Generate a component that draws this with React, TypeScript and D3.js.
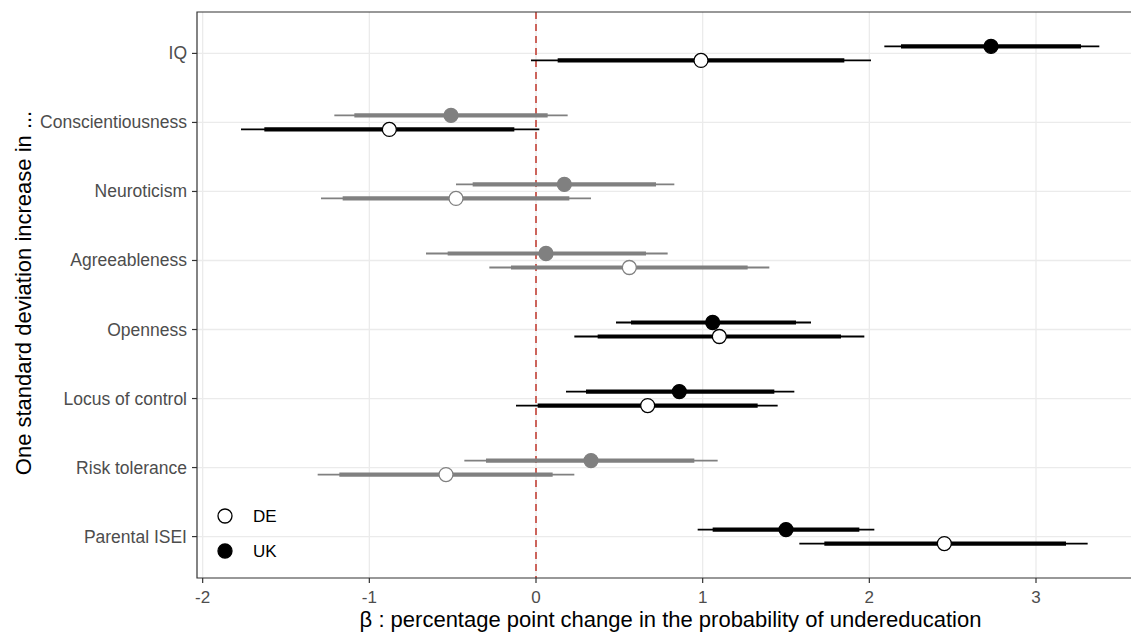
import React from "react";
import * as d3 from "d3";

const categories = ["IQ", "Conscientiousness", "Neuroticism", "Agreeableness", "Openness", "Locus of control", "Risk tolerance", "Parental ISEI"];

const ukEst = [2.73, -0.51, 0.17, 0.06, 1.06, 0.86, 0.33, 1.50];
const ukLo90 = [2.19, -1.09, -0.38, -0.53, 0.57, 0.30, -0.30, 1.06];
const ukHi90 = [3.27, 0.07, 0.72, 0.66, 1.56, 1.43, 0.95, 1.94];
const ukLo95 = [2.09, -1.21, -0.48, -0.66, 0.48, 0.18, -0.43, 0.97];
const ukHi95 = [3.38, 0.19, 0.83, 0.79, 1.65, 1.55, 1.09, 2.03];

const deEst = [0.99, -0.88, -0.48, 0.56, 1.10, 0.67, -0.54, 2.45];
const deLo90 = [0.13, -1.63, -1.16, -0.15, 0.37, 0.01, -1.18, 1.73];
const deHi90 = [1.85, -0.13, 0.20, 1.27, 1.83, 1.33, 0.10, 3.18];
const deLo95 = [-0.03, -1.77, -1.29, -0.28, 0.23, -0.12, -1.31, 1.58];
const deHi95 = [2.01, 0.02, 0.33, 1.40, 1.97, 1.45, 0.23, 3.31];

const xTicks = [-2, -1, 0, 1, 2, 3];
const seriesNames = ["DE", "UK"];

const W = 1131;
const H = 635;
const panel = { left: 197, top: 12, right: 1144, bottom: 578 };
const FONT = "'Liberation Sans', Arial, sans-serif";

export default function App() {
  const x = d3.scaleLinear().domain([-2.034, 3.648]).range([panel.left, panel.right]);
  const y = d3.scalePoint<string>().domain(categories).range([panel.top, panel.bottom]).padding(0.6);
  const dodge = 7;

  const series = [
    { name: "UK", est: ukEst, lo90: ukLo90, hi90: ukHi90, lo95: ukLo95, hi95: ukHi95, off: -dodge, filled: true },
    { name: "DE", est: deEst, lo90: deLo90, hi90: deHi90, lo95: deLo95, hi95: deHi95, off: dodge, filled: false },
  ];

  const colorFor = (lo: number, hi: number) => (lo > 0 || hi < 0 ? "#000000" : "#808080");

  return (
    <svg width={W} height={H} style={{ position: "absolute", left: 0, top: 0, background: "#fff" }} fontFamily={FONT}>
      <rect x={0} y={0} width={W} height={H} fill="#fff" />
      {/* grid */}
      {xTicks.map((t) => (
        <line key={"gx" + t} x1={x(t)} x2={x(t)} y1={panel.top} y2={panel.bottom} stroke="#ebebeb" strokeWidth={1.3} />
      ))}
      {categories.map((c) => (
        <line key={"gy" + c} x1={panel.left} x2={panel.right} y1={y(c)} y2={y(c)} stroke="#ebebeb" strokeWidth={1.3} />
      ))}
      {/* zero line */}
      <line x1={x(0)} x2={x(0)} y1={panel.top} y2={panel.bottom} stroke="#c8554c" strokeWidth={1.8} strokeDasharray="7,5" />
      {/* intervals */}
      {series.map((s) =>
        categories.map((c, i) => {
          const col = colorFor(s.lo90[i], s.hi90[i]);
          const yy = (y(c) as number) + s.off;
          return (
            <g key={s.name + c}>
              <line x1={x(s.lo95[i])} x2={x(s.hi95[i])} y1={yy} y2={yy} stroke={col} strokeWidth={1.8} />
              <line x1={x(s.lo90[i])} x2={x(s.hi90[i])} y1={yy} y2={yy} stroke={col} strokeWidth={4.2} />
            </g>
          );
        })
      )}
      {/* points */}
      {series.map((s) =>
        categories.map((c, i) => {
          const col = colorFor(s.lo90[i], s.hi90[i]);
          const yy = (y(c) as number) + s.off;
          return (
            <circle
              key={"p" + s.name + c}
              cx={x(s.est[i])}
              cy={yy}
              r={7}
              fill={s.filled ? col : "#fff"}
              stroke={col}
              strokeWidth={1.3}
            />
          );
        })
      )}
      {/* panel border */}
      <path
        d={`M${panel.right},${panel.top} H${panel.left} V${panel.bottom} H${panel.right}`}
        fill="none"
        stroke="#333333"
        strokeWidth={1.2}
      />
      {/* y axis ticks & labels */}
      {categories.map((c) => (
        <g key={"yt" + c}>
          <line x1={panel.left - 5} x2={panel.left} y1={y(c)} y2={y(c)} stroke="#333333" strokeWidth={1.2} />
          <text x={panel.left - 10} y={(y(c) as number) + 6} textAnchor="end" fontSize={17.5} fill="#4d4d4d">
            {c}
          </text>
        </g>
      ))}
      {/* x axis ticks & labels */}
      {xTicks.map((t) => (
        <g key={"xt" + t}>
          <line x1={x(t)} x2={x(t)} y1={panel.bottom} y2={panel.bottom + 5} stroke="#333333" strokeWidth={1.2} />
          <text x={x(t)} y={panel.bottom + 25} textAnchor="middle" fontSize={17} fill="#4d4d4d">
            {t < 0 ? "-" + Math.abs(t) : String(t)}
          </text>
        </g>
      ))}
      {/* axis titles */}
      <text x={(panel.left + panel.right) / 2} y={627} textAnchor="middle" fontSize={22} fill="#000">
        β : percentage point change in the probability of undereducation
      </text>
      <text
        transform={`translate(31, ${(panel.top + panel.bottom) / 2 - 2}) rotate(-90)`}
        textAnchor="middle"
        fontSize={22}
        fill="#000"
      >
        One standard deviation increase in ...
      </text>
      {/* legend */}
      {seriesNames.map((n, i) => (
        <g key={"lg" + n} transform={`translate(225, ${516 + i * 35})`}>
          <circle r={7} fill={n === "UK" ? "#000" : "#fff"} stroke="#000" strokeWidth={1.3} />
          <text x={28} y={6} fontSize={17} fill="#000">
            {n}
          </text>
        </g>
      ))}
    </svg>
  );
}
